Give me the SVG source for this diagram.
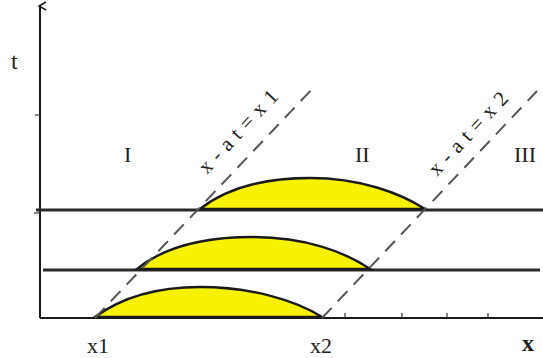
<svg xmlns="http://www.w3.org/2000/svg" width="543" height="358" viewBox="0 0 543 358">
<style>
.ax{stroke:#1a1a1a;stroke-width:2;fill:none}
.ln{stroke:#2a2a2a;stroke-width:3;fill:none}
.hump{fill:#f7f200;stroke:#1a1a1a;stroke-width:2.5}
.dash{stroke:#555;stroke-width:2;stroke-dasharray:14 9;fill:none}
.tk{stroke:#333;stroke-width:1.2}
.lbl{font-family:"Liberation Serif","DejaVu Serif",serif;fill:#222}
</style>
<defs>
<marker id="arr" markerWidth="10" markerHeight="10" refX="5" refY="2" orient="auto" markerUnits="userSpaceOnUse">
<path d="M1,8 L5,1 L9,8" fill="none" stroke="#1a1a1a" stroke-width="1.5"/>
</marker>
</defs>
<g id="axes">
<line class="ax" x1="40" y1="318" x2="40" y2="6" marker-end="url(#arr)"/>
<line class="ax" x1="40" y1="318" x2="543" y2="318"/>
<line class="tk" x1="35" y1="115" x2="40" y2="115"/>
<line class="tk" x1="34" y1="213" x2="40" y2="213"/>
<line class="tk" x1="142" y1="318" x2="142" y2="313"/>
<line class="tk" x1="243" y1="318" x2="243" y2="313"/>
<line class="tk" x1="345" y1="318" x2="345" y2="313"/>
<line class="tk" x1="402" y1="318" x2="402" y2="313"/>
<line class="tk" x1="447" y1="318" x2="447" y2="313"/>
<line class="tk" x1="488" y1="318" x2="488" y2="313"/>
<text class="lbl" x="11" y="69" font-size="24">t</text>
<text class="lbl" x="87" y="353" font-size="22">x1</text>
<text class="lbl" x="310" y="353" font-size="22">x2</text>
<text class="lbl" x="522" y="351" font-size="24" font-weight="bold">x</text>
</g>
<g id="wave-bottom">
<path class="hump" d="M95,317 C125,295 160,287 200,287 C250,287 295,300 322,317 Z"/>
</g>
<g id="wave-middle">
<line class="ln" x1="43" y1="270" x2="540" y2="270"/>
<path class="hump" d="M137,269 C165,246 205,237 253,237 C305,237 345,252 370,269 Z"/>
</g>
<g id="wave-top">
<line class="ln" x1="36" y1="210" x2="543" y2="210"/>
<path class="hump" d="M200,209 C228,187 265,178 310,178 C360,178 400,193 425,209 Z"/>
</g>
<g id="connectors">
<line class="dash" x1="95" y1="318" x2="315" y2="86"/>
<line class="dash" x1="322" y1="318" x2="537" y2="91"/>
</g>
<g id="region-labels">
<text class="lbl" x="124" y="162" font-size="22">I</text>
<text class="lbl" x="355" y="162" font-size="22">II</text>
<text class="lbl" x="514" y="162" font-size="22">III</text>
<text class="lbl" font-size="21" textLength="106" lengthAdjust="spacing" transform="translate(207,175) rotate(-47)">x-at=x1</text>
<text class="lbl" font-size="21" textLength="106" lengthAdjust="spacing" transform="translate(437,177) rotate(-47)">x-at=x2</text>
</g>
</svg>
